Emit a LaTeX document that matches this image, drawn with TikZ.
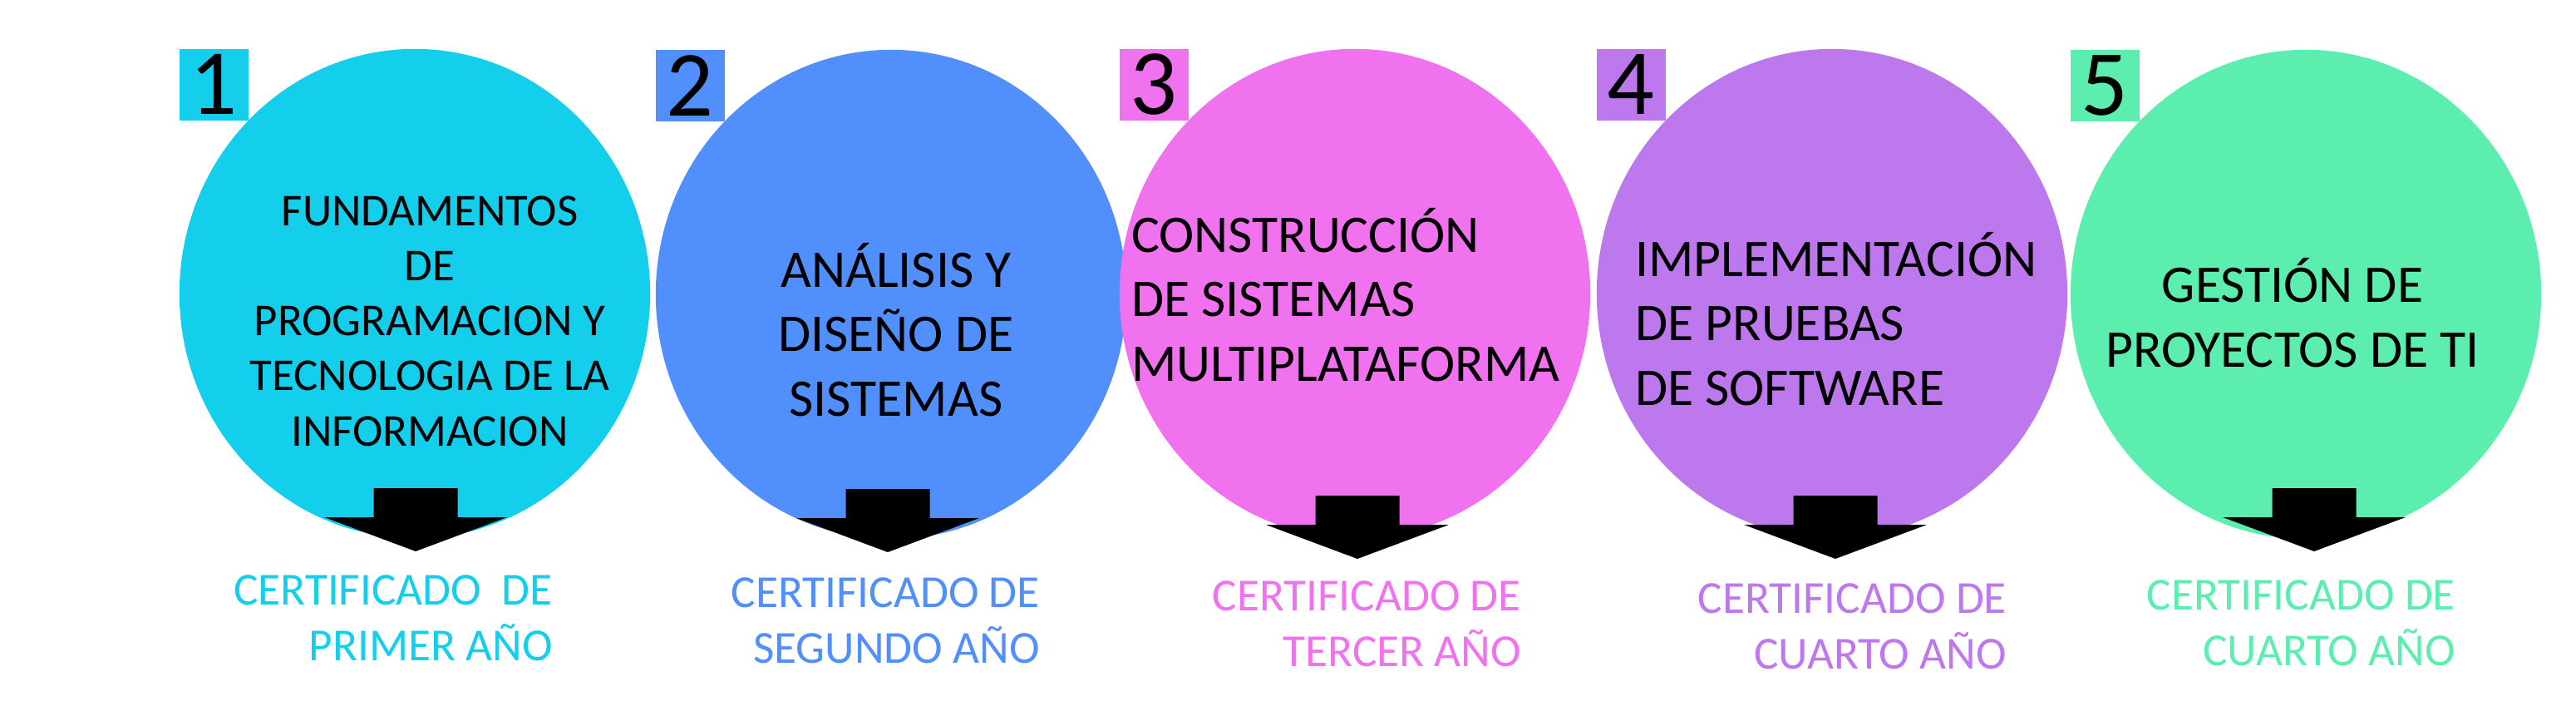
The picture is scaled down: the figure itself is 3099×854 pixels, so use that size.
\documentclass[tikz,border=0pt]{standalone}
\usepackage{fontspec}
\setmainfont{Carlito}
\usepackage{tikz}
\usepackage{xcolor}
\usetikzlibrary{positioning, shapes.geometric}
\definecolor{Cert_Cyan}{HTML}{13CFEC}
\definecolor{Cert_Blue}{HTML}{518FFC}
\definecolor{Cert_Pink}{HTML}{F172EE}
\definecolor{Cert_Purple}{HTML}{BD78EE}
\definecolor{Cert_Green}{HTML}{5CEEAE}

\begin{document}
\begin{tikzpicture}[
  x=0.01cm, y=-0.01cm,
  every node/.style={inner sep=0pt, outer sep=0pt},
  bubble/.style={ellipse, minimum width=5.66cm, minimum height=5.88cm},
  numbox/.style={anchor=north west, minimum width=0.83cm, minimum height=0.86cm, font=\fontsize{31.9}{38}\selectfont},
  ttl/.style={font=\fontsize{18.1}{22}\selectfont, anchor=base, align=center},
  ttlsmall/.style={font=\fontsize{15.6}{18.8}\selectfont, anchor=base, align=center},
  ttlleft/.style={ttl, anchor=base west, align=left},
  cert/.style={font=\fontsize{15.7}{18.8}\selectfont, align=right, anchor=base east},
  blk/.style={fill=black}
]
  \useasboundingbox (0,0) rectangle (3099,854);

  % Stage 1
  \node[bubble, fill=Cert_Cyan] (c1) at (499,353) {};
  \node[numbox, fill=Cert_Cyan] (n1) at (c1.west |- c1.north) {1};
  \node[ttlsmall] (t1) at (517,536) {FUNDAMENTOS\\DE\\PROGRAMACION Y\\TECNOLOGIA DE LA\\INFORMACION};

  % Stage 2
  \node[bubble, fill=Cert_Blue] (c2) at (1072,354) {};
  \node[numbox, fill=Cert_Blue] (n2) at (c2.west |- c2.north) {2};
  \node[ttl] (t2) at (1078,500) {ANÁLISIS Y\\DISEÑO DE\\SISTEMAS};

  % Stage 3
  \node[bubble, fill=Cert_Pink] (c3) at (1630,353) {};
  \node[numbox, fill=Cert_Pink] (n3) at (c3.west |- c3.north) {3};
  \node[ttlleft] (t3) at (1361,458) {CONSTRUCCIÓN\\DE SISTEMAS\\MULTIPLATAFORMA};

  % Stage 4
  \node[bubble, fill=Cert_Purple] (c4) at (2204,353) {};
  \node[numbox, fill=Cert_Purple] (n4) at (c4.west |- c4.north) {4};
  \node[ttlleft] (t4) at (1967,487) {IMPLEMENTACIÓN\\DE PRUEBAS\\DE SOFTWARE};

  % Stage 5
  \node[bubble, fill=Cert_Green] (c5) at (2774,354) {};
  \node[numbox, fill=Cert_Green] (n5) at (c5.west |- c5.north) {5};
  \node[ttl] (t5) at (2758,441) {GESTIÓN DE\\PROYECTOS DE TI};

  % Down arrows
  \fill[blk] (449.5,587) -- ++(101,0) -- ++(0,35) -- ++(59.5,0) -- ++(-110,41) -- ++(-110,-41) -- ++(59.5,0) -- cycle;
  \fill[blk] (1017.5,588) -- ++(101,0) -- ++(0,35) -- ++(59.5,0) -- ++(-110,41) -- ++(-110,-41) -- ++(59.5,0) -- cycle;
  \fill[blk] (1582.5,596) -- ++(101,0) -- ++(0,35) -- ++(59.5,0) -- ++(-110,41) -- ++(-110,-41) -- ++(59.5,0) -- cycle;
  \fill[blk] (2157.5,596) -- ++(101,0) -- ++(0,35) -- ++(59.5,0) -- ++(-110,41) -- ++(-110,-41) -- ++(59.5,0) -- cycle;
  \fill[blk] (2733.5,587) -- ++(101,0) -- ++(0,35) -- ++(59.5,0) -- ++(-110,41) -- ++(-110,-41) -- ++(59.5,0) -- cycle;

  % Certificates
  \node[cert, text=Cert_Cyan] (l1) at (665,794) {CERTIFICADO\ \ DE\\PRIMER AÑO};
  \node[cert, text=Cert_Blue] (l2) at (1251,797) {CERTIFICADO DE\\SEGUNDO AÑO};
  \node[cert, text=Cert_Pink] (l3) at (1830,801) {CERTIFICADO DE\\TERCER AÑO};
  \node[cert, text=Cert_Purple] (l4) at (2414,804) {CERTIFICADO DE\\CUARTO AÑO};
  \node[cert, text=Cert_Green] (l5) at (2954,800) {CERTIFICADO DE\\CUARTO AÑO};
\end{tikzpicture}
\end{document}
